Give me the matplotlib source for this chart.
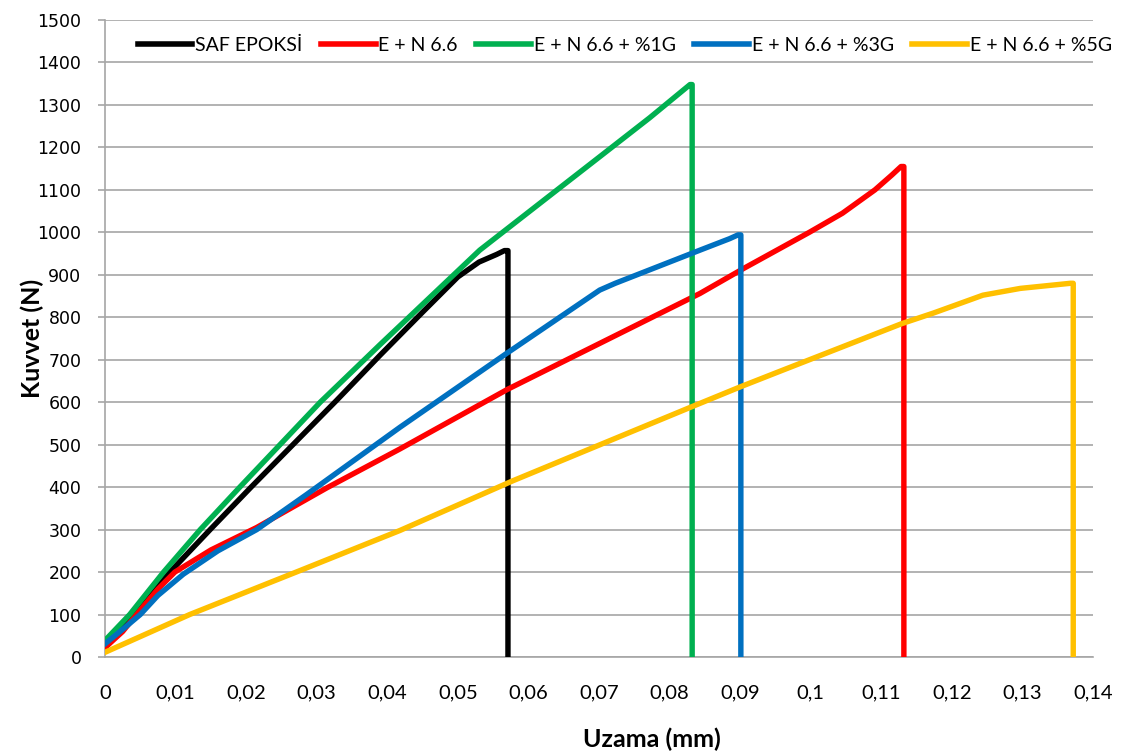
import matplotlib
matplotlib.use("Agg")
import matplotlib.pyplot as plt
from matplotlib.ticker import MultipleLocator, FuncFormatter

# Force-elongation curves (elongation in mm, force in N)
saf_x = [0, 0.0042, 0.0092, 0.0149, 0.0207, 0.0328, 0.039, 0.045, 0.05, 0.053, 0.0555, 0.0566, 0.0571, 0.0571]
saf_y = [22, 100, 200, 300, 400, 604, 711, 812, 895, 930, 948, 957, 957, 0]

n66_x = [0, 0.0025, 0.0047, 0.0075, 0.0099, 0.015, 0.0215, 0.0314, 0.0418, 0.057, 0.0843, 0.0905,
         0.0998, 0.1045, 0.1091, 0.1115, 0.1128, 0.1132, 0.1132]
n66_y = [22, 60, 105, 160, 200, 252, 305, 398, 490, 630, 856, 915,
         1000, 1045, 1100, 1135, 1155, 1155, 0]

g1_x = [0, 0.0035, 0.0083, 0.0135, 0.0191, 0.0305, 0.039, 0.0531, 0.0626, 0.0701, 0.0772, 0.0829, 0.0832, 0.0832]
g1_y = [39, 100, 200, 300, 400, 600, 736, 958, 1081, 1178, 1270, 1348, 1348, 0]

g3_x = [0, 0.0025, 0.005, 0.0075, 0.0111, 0.016, 0.0215, 0.0286, 0.0418, 0.057, 0.0701, 0.0723,
        0.0843, 0.0885, 0.0897, 0.0901, 0.0901]
g3_y = [31, 65, 100, 145, 195, 250, 300, 383, 541, 716, 864, 880,
        958, 985, 994, 994, 0]

g5_x = [0, 0.012, 0.0277, 0.0418, 0.0578, 0.0831, 0.09, 0.0952, 0.1129, 0.1174, 0.1244, 0.1297, 0.1368, 0.1372, 0.1372]
g5_y = [11, 100, 204, 298, 415, 589, 636, 670, 785, 810, 852, 868, 880, 880, 0]

labels = ["SAF EPOKSİ", "E + N 6.6", "E + N 6.6 + %1G", "E + N 6.6 + %3G", "E + N 6.6 + %5G"]
colors = ["#000000", "#FF0000", "#00B050", "#0070C0", "#FFC000"]
series = [(saf_x, saf_y), (n66_x, n66_y), (g1_x, g1_y), (g3_x, g3_y), (g5_x, g5_y)]

x_ticks = [round(0.01 * i, 2) for i in range(15)]

text_font = ["Lato", "DejaVu Sans"]

fig = plt.figure(figsize=(11.22, 7.56), dpi=100)
ax = fig.add_axes([105 / 1122, 1 - 657 / 756, (1093 - 105) / 1122, (657 - 20) / 756])

for (xs, ys), c, lab in zip(series, colors, labels):
    ax.plot(xs, ys, color=c, lw=3.9, label=lab, solid_joinstyle="round", zorder=3)

ax.set_xlim(0, 0.14)
ax.set_ylim(0, 1500)
ax.set_xticks(x_ticks)
ax.yaxis.set_major_locator(MultipleLocator(100))
ax.xaxis.set_major_formatter(FuncFormatter(lambda v, p: ("%g" % round(v, 2)).replace(".", ",")))

ax.grid(axis="y", color="#A6A6A6", lw=1.2)
ax.set_axisbelow(True)
for s in ("top", "right"):
    ax.spines[s].set_visible(False)
for s in ("left", "bottom"):
    ax.spines[s].set_color("#A6A6A6")
    ax.spines[s].set_linewidth(1.2)

ax.tick_params(axis="y", length=5, width=1.2, color="#A6A6A6", pad=12, labelsize=12.5, labelcolor="#000000")
ax.tick_params(axis="x", length=0, pad=20, labelsize=14.5)
for t in ax.get_xticklabels():
    t.set_family(text_font)
for t in ax.get_yticklabels():
    t.set_family("DejaVu Sans")

ax.set_xlabel("Uzama (mm)", family=text_font, fontsize=18, fontweight="bold")
ax.set_ylabel("Kuvvet (N)", family=text_font, fontsize=18, fontweight="bold")
ax.xaxis.set_label_coords(0.554, -0.11)
ax.yaxis.set_label_coords(-0.062, 0.5)

leg = fig.legend(loc="center left", bbox_to_anchor=(138 / 1122, 1 - 45 / 756), ncol=5,
                 frameon=False, prop={"family": text_font, "size": 14},
                 handlelength=2.8, handletextpad=0.15, columnspacing=0.95,
                 borderpad=0, borderaxespad=0)
for h in leg.get_lines():
    h.set_linewidth(4)

fig.savefig("out.png", dpi=100)
